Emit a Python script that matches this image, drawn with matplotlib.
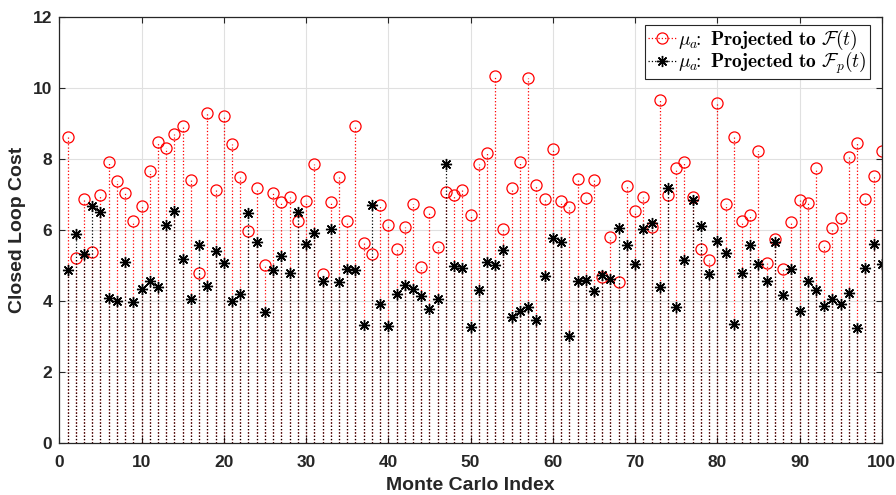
import matplotlib
matplotlib.use("Agg")
import matplotlib.pyplot as plt
from matplotlib.lines import Line2D

index = list(range(1, 101))
cost_F = [8.61, 5.21, 6.88, 5.37, 6.98, 7.92, 7.38, 7.03, 6.25, 6.67,
          7.66, 8.47, 8.32, 8.71, 8.92, 7.40, 4.79, 9.30, 7.12, 9.21,
          8.41, 7.49, 5.97, 7.19, 5.02, 7.05, 6.79, 6.93, 6.26, 6.81,
          7.85, 4.75, 6.79, 7.49, 6.24, 8.92, 5.62, 5.33, 6.70, 6.13,
          5.46, 6.08, 6.73, 4.95, 6.50, 5.51, 7.07, 6.98, 7.12, 6.42,
          7.87, 8.16, 10.34, 6.03, 7.17, 7.92, 10.29, 7.27, 6.88, 8.29,
          6.82, 6.65, 7.43, 6.89, 7.40, 4.68, 5.79, 4.54, 7.25, 6.53,
          6.92, 6.08, 9.65, 6.99, 7.75, 7.92, 6.92, 5.46, 5.15, 9.58,
          6.72, 8.61, 6.24, 6.42, 8.23, 5.06, 5.75, 4.90, 6.22, 6.84,
          6.75, 7.75, 5.54, 6.06, 6.34, 8.05, 8.46, 6.86, 7.52, 8.23]
cost_Fp = [4.87, 5.89, 5.32, 6.67, 6.50, 4.09, 4.00, 5.08, 3.96, 4.34,
           4.57, 4.40, 6.14, 6.54, 5.18, 4.04, 5.58, 4.41, 5.40, 5.06,
           4.00, 4.19, 6.47, 5.67, 3.68, 4.86, 5.27, 4.79, 6.50, 5.60,
           5.90, 4.57, 6.03, 4.52, 4.90, 4.86, 3.32, 6.70, 3.92, 3.29,
           4.19, 4.45, 4.34, 4.12, 3.77, 4.06, 7.85, 4.98, 4.92, 3.25,
           4.31, 5.09, 5.02, 5.42, 3.55, 3.72, 3.81, 3.46, 4.71, 5.77,
           5.65, 3.01, 4.57, 4.59, 4.28, 4.72, 4.62, 6.06, 5.56, 5.04,
           6.03, 6.18, 4.40, 7.19, 3.82, 5.15, 6.83, 6.10, 4.76, 5.68,
           5.35, 3.35, 4.77, 5.58, 5.04, 4.55, 5.65, 4.15, 4.89, 3.70,
           4.55, 4.31, 3.86, 4.05, 3.92, 4.22, 3.24, 4.92, 5.61, 5.04]
x_ticks = list(range(0, 101, 10))
y_ticks = list(range(0, 13, 2))
labels = [r'$\mu_a\!\!\mathbf{:}\ \mathbf{Projected\ to\ }\mathcal{F}(t)$',
          r'$\mu_a\!\!\mathbf{:}\ \mathbf{Projected\ to\ }\mathcal{F}_p(t)$']

plt.rcParams['font.family'] = ['Liberation Sans', 'DejaVu Sans']
plt.rcParams['mathtext.fontset'] = 'cm'

fig = plt.figure(figsize=(8.96, 4.95), dpi=100)
ax = fig.add_axes([0.0662, 0.1060, 0.9180, 0.8594])

asterisk = (8, 2, 0)
c_style = dict(markerfacecolor='none', markeredgecolor='red', markersize=8,
               markeredgewidth=0.9)
a_style = dict(markerfacecolor='black', markeredgecolor='black', markersize=8,
               markeredgewidth=1.0)

m1, s1, b1 = ax.stem(index, cost_F, linefmt=':', markerfmt='o', basefmt=' ')
plt.setp(s1, color='red', linewidth=0.9)
plt.setp(m1, **c_style)
m2, s2, b2 = ax.stem(index, cost_Fp, linefmt=':', markerfmt='o', basefmt=' ')
plt.setp(s2, color='black', linewidth=0.9)
plt.setp(m2, marker=asterisk, **a_style)

ax.set_xlim(0, 100)
ax.set_ylim(0, 12)
ax.set_xticks(x_ticks)
ax.set_yticks(y_ticks)
ax.grid(True, color='#e0e0e0', linewidth=0.8)
ax.set_axisbelow(True)
ax.tick_params(direction='in', length=4, width=0.8, colors='#262626',
               labelsize=12.5, top=True, right=True)
ax.tick_params(axis='x', pad=9)
ax.tick_params(axis='y', pad=5)
for lab in ax.get_xticklabels() + ax.get_yticklabels():
    lab.set_fontweight('bold')
for sp in ax.spines.values():
    sp.set_color('#262626')
    sp.set_linewidth(0.9)
ax.set_xlabel('Monte Carlo Index', fontsize=14, fontweight='bold', color='#262626', labelpad=5)
ax.set_ylabel('Closed Loop Cost', fontsize=14, fontweight='bold', color='#262626', labelpad=5)

h1 = Line2D([], [], color='red', linestyle=':', linewidth=0.9, marker='o', **c_style)
h2 = Line2D([], [], color='black', linestyle=':', linewidth=0.9, marker=asterisk, **a_style)
leg = ax.legend([h1, h2], labels, loc='upper right', bbox_to_anchor=(0.9854, 0.982),
                fontsize=14, fancybox=False, framealpha=1, edgecolor='#262626',
                handlelength=1.45, handletextpad=0.1, borderpad=0.15, labelspacing=-0.12,
                borderaxespad=0.0)
leg.get_frame().set_linewidth(0.8)

fig.savefig('out.png', dpi=100)
